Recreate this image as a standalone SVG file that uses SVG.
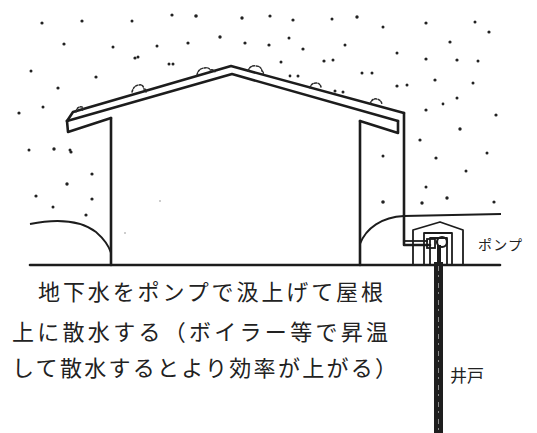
<svg xmlns="http://www.w3.org/2000/svg" width="537" height="433" viewBox="0 0 537 433">
  <style>
    .ln { fill: none; stroke: #1c1c1c; stroke-width: 2.6; stroke-linejoin: round; stroke-linecap: round; }
    .thin { fill: none; stroke: #1c1c1c; stroke-width: 1.8; stroke-linejoin: round; }
    .spray { fill: none; stroke: #2a2a2a; stroke-width: 1.5; stroke-dasharray: 2 1.5; stroke-linecap: round; }
    .dot { fill: #222; }
    .jp { font-family: "Noto Sans CJK JP", "Noto Sans", sans-serif; fill: #222; }
  </style>

  <rect width="537" height="433" fill="#ffffff"/>

  <!-- rain of sprinkled water above the roof -->
  <g id="droplets">
    <circle class="dot" cx="42" cy="23" r="1.6"/><circle class="dot" cx="82" cy="21" r="1.6"/>
    <circle class="dot" cx="132" cy="21" r="1.5"/><circle class="dot" cx="172" cy="15" r="1.6"/>
    <circle class="dot" cx="196" cy="16" r="1.8"/><circle class="dot" cx="242" cy="18" r="1.7"/>
    <circle class="dot" cx="270" cy="16" r="1.6"/><circle class="dot" cx="293" cy="20" r="1.6"/>
    <circle class="dot" cx="332" cy="19" r="1.5"/><circle class="dot" cx="357" cy="17" r="1.7"/>
    <circle class="dot" cx="383" cy="27" r="1.5"/><circle class="dot" cx="426" cy="23" r="1.6"/>
    <circle class="dot" cx="475" cy="22" r="1.5"/><circle class="dot" cx="489" cy="32" r="1.6"/>
    <circle class="dot" cx="64" cy="44" r="1.6"/><circle class="dot" cx="113" cy="47" r="1.5"/>
    <circle class="dot" cx="157" cy="46" r="1.5"/><circle class="dot" cx="188" cy="43" r="1.6"/>
    <circle class="dot" cx="220" cy="37" r="1.7"/><circle class="dot" cx="245" cy="43" r="1.6"/>
    <circle class="dot" cx="269" cy="45" r="1.6"/><circle class="dot" cx="289" cy="38" r="1.5"/>
    <circle class="dot" cx="303" cy="49" r="1.6"/><circle class="dot" cx="345" cy="45" r="1.5"/>
    <circle class="dot" cx="450" cy="42" r="1.6"/><circle class="dot" cx="397" cy="53" r="1.5"/>
    <circle class="dot" cx="135" cy="58" r="1.6"/><circle class="dot" cx="169" cy="64" r="1.5"/>
    <circle class="dot" cx="281" cy="62" r="1.5"/><circle class="dot" cx="324" cy="61" r="1.6"/>
    <circle class="dot" cx="426" cy="59" r="1.6"/><circle class="dot" cx="457" cy="60" r="1.6"/>
    <circle class="dot" cx="478" cy="61" r="1.5"/><circle class="dot" cx="31" cy="71" r="1.5"/>
    <circle class="dot" cx="96" cy="77" r="1.6"/><circle class="dot" cx="58" cy="88" r="1.6"/>
    <circle class="dot" cx="362" cy="73" r="1.5"/><circle class="dot" cx="290" cy="76" r="1.4"/>
    <circle class="dot" cx="397" cy="86" r="1.6"/><circle class="dot" cx="435" cy="80" r="1.6"/>
    <circle class="dot" cx="473" cy="83" r="1.5"/><circle class="dot" cx="335" cy="91" r="1.5"/>
    <circle class="dot" cx="457" cy="98" r="1.5"/><circle class="dot" cx="138" cy="57" r="1.5"/>
    <circle class="dot" cx="173" cy="64" r="1.5"/><circle class="dot" cx="333" cy="60" r="1.5"/>
    <circle class="dot" cx="372" cy="73" r="1.5"/><circle class="dot" cx="298" cy="76" r="1.5"/>
    <circle class="dot" cx="407" cy="85" r="1.5"/><circle class="dot" cx="343" cy="92" r="1.5"/>
    <circle class="dot" cx="70" cy="150" r="1.5"/><circle class="dot" cx="383" cy="156" r="1.5"/>
    <circle class="dot" cx="420" cy="140" r="1.6"/><circle class="dot" cx="19" cy="113" r="1.6"/>
    <circle class="dot" cx="43" cy="107" r="1.5"/><circle class="dot" cx="29" cy="150" r="1.5"/>
    <circle class="dot" cx="54" cy="149" r="1.7"/><circle class="dot" cx="71" cy="152" r="1.6"/>
    <circle class="dot" cx="92" cy="174" r="1.6"/><circle class="dot" cx="67" cy="184" r="1.7"/>
    <circle class="dot" cx="36" cy="196" r="1.6"/><circle class="dot" cx="92" cy="199" r="1.6"/>
    <circle class="dot" cx="53" cy="207" r="1.5"/><circle class="dot" cx="86" cy="215" r="1.6"/>
    <circle class="dot" cx="426" cy="110" r="1.6"/><circle class="dot" cx="443" cy="104" r="1.4"/>
    <circle class="dot" cx="496" cy="115" r="1.6"/><circle class="dot" cx="460" cy="129" r="1.7"/>
    <circle class="dot" cx="487" cy="153" r="1.5"/><circle class="dot" cx="436" cy="158" r="1.6"/>
    <circle class="dot" cx="466" cy="171" r="1.5"/><circle class="dot" cx="426" cy="187" r="1.5"/>
    <circle class="dot" cx="422" cy="203" r="1.7"/><circle class="dot" cx="447" cy="198" r="1.7"/>
    <circle class="dot" cx="494" cy="202" r="1.6"/><circle class="dot" cx="383" cy="202" r="1.8"/>
    <circle class="dot" cx="160" cy="201" r="0.8" opacity="0.5"/><circle class="dot" cx="125" cy="233" r="0.8" opacity="0.5"/>
  </g>

  <!-- house: roof slab with eaves, walls -->
  <g id="house">
    <path class="ln" d="M67,121 L73,112 L231,66 L404,113"/>
    <path class="ln" d="M67,121 L232,74 L398,121"/>
    <path class="ln" d="M67,121 L68,132 L111,118"/>
    <path class="ln" d="M398,121 L398,133 L360,121"/>
    <path class="ln" d="M111,118 L111,265"/>
    <path class="ln" d="M360,121 L360,265"/>
    <!-- water spread on the roof -->
    <path class="spray" d="M76,112 q1,-6 6,-5 q2,1 0,4"/>
    <path class="spray" d="M132,92 q2,-7 7,-7 q4,-1 5,4 q3,0 2,3"/>
    <path class="spray" d="M197,75 q1,-6 7,-7 q5,-1 6,2 q4,-1 5,2"/>
    <path class="spray" d="M248,71 q2,-6 8,-5 q5,0 6,5 q2,1 1,3"/>
    <path class="spray" d="M310,88 q1,-5 6,-5 q4,0 5,4"/>
    <path class="spray" d="M370,104 q2,-6 7,-5 q4,1 5,5"/>
  </g>

  <!-- ground and mounds -->
  <g id="ground">
    <path class="ln" d="M30,265 L500,265"/>
    <path class="thin" d="M30,224 C55,219 80,220 96,232 C104,239 109,246 111,253"/>
    <path class="thin" d="M360,244 C366,228 382,217 404,216 L501,214"/>
  </g>

  <!-- spray pipe from pump up to ridge end -->
  <g id="pipe">
    <path class="ln" d="M404,113 L404,245 L430,245"/>
    <path class="thin" d="M404,241 L428,241"/>
  </g>

  <!-- pump shed with pump -->
  <g id="pump">
    <path class="thin" d="M413,265 L413,230 L440,222 L463,230 L463,265"/>
    <path class="thin" d="M424,265 L424,233 L452,233 L452,265"/>
    <path class="thin" d="M430,265 L430,238 L447,238 L447,265"/>
    <rect x="427" y="239" width="8" height="9" fill="none" stroke="#1c1c1c" stroke-width="1.8"/>
    <circle cx="442" cy="242" r="5" fill="none" stroke="#1c1c1c" stroke-width="2.2"/>
    <path d="M439,245 L439,265" stroke="#1c1c1c" stroke-width="4" fill="none"/>
    <text class="jp" x="478" y="250" font-size="14" textLength="44" lengthAdjust="spacing">ポンプ</text>
  </g>

  <!-- well casing going down -->
  <g id="well">
    <rect x="434" y="262" width="9" height="171" fill="#1e1e1e"/>
    <path d="M438.5,266 L438.5,433" stroke="#8a8a8a" stroke-width="1" stroke-dasharray="5 4 2 6" fill="none"/>
    <text class="jp" x="450" y="382" font-size="17">井戸</text>
  </g>

  <!-- caption -->
  <g id="caption">
    <text class="jp" x="38" y="300" font-size="22" textLength="345" lengthAdjust="spacing">地下水をポンプで汲上げて屋根</text>
    <text class="jp" x="12" y="340" font-size="22" textLength="376" lengthAdjust="spacing">上に散水する（ボイラー等で昇温</text>
    <text class="jp" x="12" y="376" font-size="22" textLength="385" lengthAdjust="spacing">して散水するとより効率が上がる）</text>
  </g>
</svg>
